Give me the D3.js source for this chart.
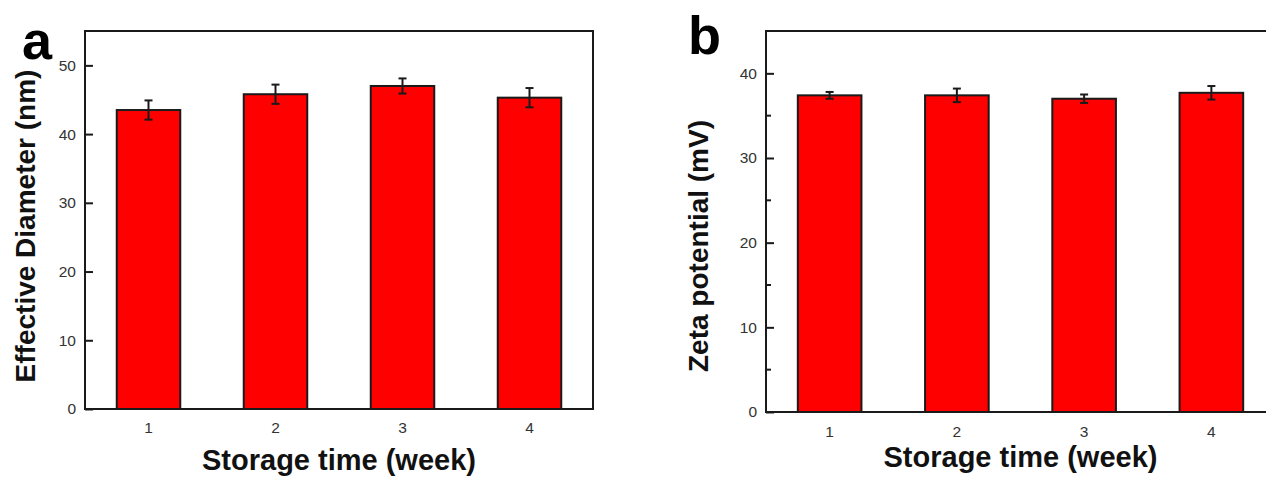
<!DOCTYPE html>
<html>
<head>
<meta charset="utf-8">
<script src="https://cdn.jsdelivr.net/npm/d3@7"></script>
<style>
  body { margin: 0; background: #fff; }
  svg { display: block; }
  text { font-family: "Liberation Sans", Arial, sans-serif; }
</style>
</head>
<body>
<div id="paper"></div>
<script>
// storage weeks
var weeks = [1, 2, 3, 4];

// panel a: effective diameter (nm)
var diameter = [43.5, 45.8, 47.0, 45.3];
var diameterErr = [1.4, 1.4, 1.1, 1.4];
var diameterTicks = [0, 10, 20, 30, 40, 50];

// panel b: zeta potential (mV)
var zeta = [37.4, 37.4, 37.0, 37.7];
var zetaErr = [0.4, 0.8, 0.5, 0.8];
var zetaTicks = [0, 10, 20, 30, 40];
var zetaMinor = [5, 15, 25, 35];

var width = 1266,
    height = 477;

var svg = d3.select("#paper").append("svg")
    .attr("width", width)
    .attr("height", height);

var ink = "#1a1a1a";

var panel = function(opt) {
  var x = d3.scaleLinear().domain([0.5, 4.5]).range([opt.left, opt.right]);
  var y = d3.scaleLinear().domain([0, opt.max]).range([opt.bottom, opt.top]);
  var bw = (x(2) - x(1)) / 2;
  var g = svg.append("g");

  // bars
  g.selectAll("rect.bar")
    .data(weeks)
    .enter().append("rect")
    .attr("class", "bar")
    .attr("x", function(d) { return x(d) - bw / 2; })
    .attr("y", function(d, i) { return y(opt.values[i]); })
    .attr("width", bw)
    .attr("height", function(d, i) { return y(0) - y(opt.values[i]); })
    .attr("fill", "#ff0000")
    .attr("stroke", ink)
    .attr("stroke-width", 2);

  // error bars
  var eb = g.selectAll("g.err")
    .data(weeks)
    .enter().append("g")
    .attr("class", "err")
    .attr("stroke", ink)
    .attr("stroke-width", 2);
  eb.append("line")
    .attr("x1", function(d) { return x(d); })
    .attr("x2", function(d) { return x(d); })
    .attr("y1", function(d, i) { return y(opt.values[i] + opt.errs[i]); })
    .attr("y2", function(d, i) { return y(opt.values[i] - opt.errs[i]); });
  [1, -1].forEach(function(s) {
    eb.append("line")
      .attr("x1", function(d) { return x(d) - 4; })
      .attr("x2", function(d) { return x(d) + 4; })
      .attr("y1", function(d, i) { return y(opt.values[i] + s * opt.errs[i]); })
      .attr("y2", function(d, i) { return y(opt.values[i] + s * opt.errs[i]); });
  });

  // frame
  g.append("rect")
    .attr("x", opt.left)
    .attr("y", opt.top)
    .attr("width", opt.right - opt.left)
    .attr("height", opt.bottom - opt.top)
    .attr("fill", "none")
    .attr("stroke", ink)
    .attr("stroke-width", 2);

  // y axis ticks (inward)
  var yAxis = d3.axisLeft(y)
    .tickValues(opt.ticks)
    .tickSizeInner(-8)
    .tickSizeOuter(0)
    .tickPadding(9)
    .tickFormat(d3.format("d"));
  var ya = g.append("g")
    .attr("transform", "translate(" + opt.left + ",0)")
    .call(yAxis);
  ya.select(".domain").remove();
  ya.selectAll("line").attr("stroke", ink).attr("stroke-width", 2);
  ya.selectAll("text")
    .attr("fill", "#333")
    .style("font-size", "15.5px")
    .style("font-family", "Liberation Sans, Arial, sans-serif");

  if (opt.minor) {
    g.selectAll("line.minor")
      .data(opt.minor)
      .enter().append("line")
      .attr("class", "minor")
      .attr("x1", opt.left)
      .attr("x2", opt.left + 5)
      .attr("y1", function(d) { return y(d); })
      .attr("y2", function(d) { return y(d); })
      .attr("stroke", ink)
      .attr("stroke-width", 2);
  }

  // x tick labels
  g.selectAll("text.xt")
    .data(weeks)
    .enter().append("text")
    .attr("class", "xt")
    .attr("x", function(d) { return x(d); })
    .attr("y", opt.bottom + opt.xtGap)
    .attr("text-anchor", "middle")
    .attr("fill", "#333")
    .style("font-size", "15.5px")
    .text(function(d) { return d; });

  // axis titles
  g.append("text")
    .attr("x", (opt.left + opt.right) / 2)
    .attr("y", opt.xTitleY)
    .attr("text-anchor", "middle")
    .attr("fill", "#111")
    .style("font-size", "29px")
    .style("font-weight", "bold")
    .text("Storage time (week)");

  g.append("text")
    .attr("transform", "translate(" + opt.yTitleX + "," + opt.yTitleY + ") rotate(-90)")
    .attr("text-anchor", "middle")
    .attr("fill", "#111")
    .style("font-size", "28px")
    .style("font-weight", "bold")
    .text(opt.yTitle);

  // panel letter
  g.append("text")
    .attr("x", opt.letterX)
    .attr("y", opt.letterY)
    .attr("fill", "#000")
    .style("font-size", "54px")
    .style("font-weight", "bold")
    .text(opt.letter);
};

panel({
  left: 85, right: 593, top: 31, bottom: 409, max: 55,
  values: diameter, errs: diameterErr, ticks: diameterTicks,
  xtGap: 24, xTitleY: 470,
  yTitle: "Effective Diameter (nm)", yTitleX: 35, yTitleY: 226,
  letter: "a", letterX: 22, letterY: 59
});

panel({
  left: 766, right: 1275, top: 31, bottom: 412, max: 45,
  values: zeta, errs: zetaErr, ticks: zetaTicks, minor: zetaMinor,
  xtGap: 25, xTitleY: 467,
  yTitle: "Zeta potential (mV)", yTitleX: 708, yTitleY: 246,
  letter: "b", letterX: 688, letterY: 54
});
</script>
</body>
</html>
